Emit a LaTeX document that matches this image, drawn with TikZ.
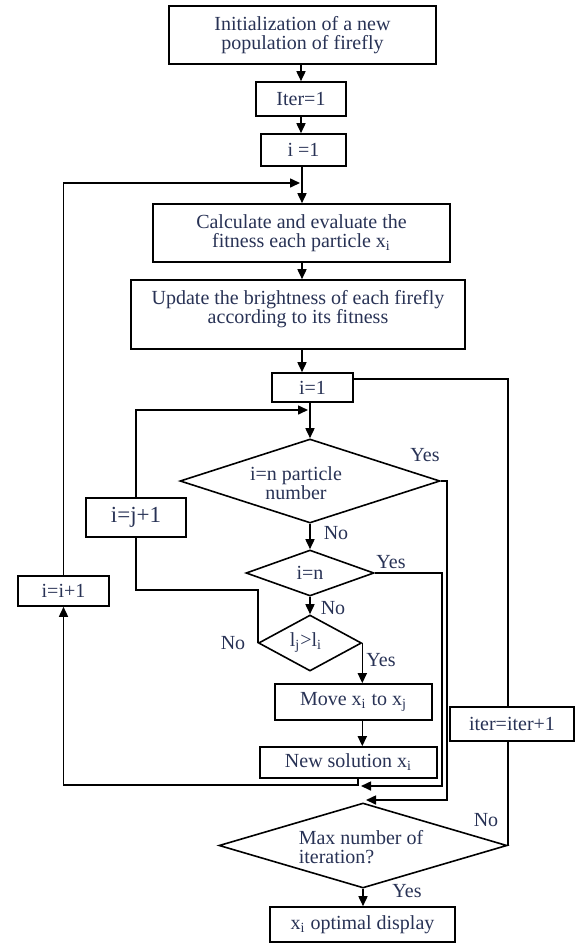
\documentclass[tikz,border=0pt]{standalone}
\usepackage{fontspec}
\setmainfont{Liberation Serif}
\usetikzlibrary{arrows.meta,shapes.geometric}
\definecolor{txtc}{RGB}{40,50,85}
\begin{document}
\begin{tikzpicture}[x=0.5pt,y=-0.5pt,
 box/.style={draw=black,line width=0.8pt,rectangle,inner sep=0pt,align=center,text=txtc,font=\fontsize{10}{9.5}\selectfont},
 dia/.style={draw=black,line width=0.8pt,diamond,inner sep=0pt},
 txt/.style={text=txtc,font=\fontsize{10}{9.5}\selectfont,align=center,inner sep=0pt},
 lbl/.style={text=txtc,font=\fontsize{10}{10}\selectfont,inner sep=0pt},
 line/.style={draw=black,line width=0.8pt},
 arr/.style={line,-{Triangle[length=5pt,width=4.5pt]}}]
\useasboundingbox (0,0) rectangle (580,943);

\node[box,minimum width=133.5pt,minimum height=29pt] (b1) at (302.5,35) {Initialization of a new\\population of firefly};
\node[box,minimum width=45pt,minimum height=17pt] (b2) at (301,99) {Iter=1};
\node[box,minimum width=42.5pt,minimum height=16pt] (b3) at (303.5,150) {i =1};
\node[box,minimum width=148.5pt,minimum height=29pt] (b4) at (301.5,233) {Calculate and evaluate the\\fitness each particle x\textsubscript{i}};
\node[box,minimum width=167pt,minimum height=34.5pt] (b5) at (298,314.5) {};
\node[txt] (b5t) at (298,309) {Update the brightness of each firefly\\according to its fitness};
\node[box,minimum width=40.5pt,minimum height=14.5pt] (b6) at (312.5,387.5) {i=1};
\node[dia,minimum width=130pt,minimum height=42pt] (d1) at (310,481) {};
\node[txt] (d1t) at (296,483) {i=n particle\\number};
\node[dia,minimum width=64pt,minimum height=23pt] (d2) at (310,573) {};
\node[txt] (d2t) at (310,573) {i=n};
\node[dia,minimum width=51.5pt,minimum height=28pt] (d3) at (310,643) {};
\node[txt] (d3t) at (306,643) {l\textsubscript{j}>l\textsubscript{i}};
\node[box,minimum width=78.5pt,minimum height=18pt] (mv) at (353.5,702) {Move x\textsubscript{i} to x\textsubscript{j}};
\node[box,minimum width=88.5pt,minimum height=15.5pt] (ns) at (348.5,762.5) {New solution x\textsubscript{i}};
\node[box,minimum width=50pt,minimum height=19.5pt,font=\fontsize{11.5}{12}\selectfont] (ij) at (136,517.5) {i=j+1};
\node[box,minimum width=45.5pt,minimum height=15pt] (ii) at (63.5,591) {i=i+1};
\node[box,minimum width=62pt,minimum height=17pt] (it) at (512,724) {iter=iter+1};
\node[dia,minimum width=144pt,minimum height=42.5pt] (d4) at (363,845.5) {};
\node[txt,align=left] (d4t) at (361,847) {Max number of\\iteration?};
\node[box,minimum width=92.5pt,minimum height=17.5pt] (en) at (362.5,924.5) {x\textsubscript{i} optimal display};

\node[lbl] (y1) at (425,455) {Yes};
\node[lbl] (n1) at (336,533) {No};
\node[lbl] (y2) at (391,562) {Yes};
\node[lbl] (n2) at (333,608) {No};
\node[lbl] (n3) at (233,643) {No};
\node[lbl] (y3) at (381,660) {Yes};
\node[lbl] (n4) at (486,820) {No};
\node[lbl] (y4) at (407,891) {Yes};

\coordinate (j1) at (302,183);
\coordinate (j2) at (310,410);
\draw[arr] (b2.north |- b1.south) -- (b2.north);
\draw[arr] (b2.south) -- (b2.south |- b3.north);
\draw[line] (b3.south -| j1) -- (j1);
\draw[arr] (j1) -- (j1 |- b4.north);
\draw[arr] (ii.north) |- ([xshift=-1pt]j1);
\draw[arr] (b4.south -| j1) -- (j1 |- b5.north);
\draw[arr] (b5.south -| j1) -- (j1 |- b6.north);
\draw[line] (b6.south -| j2) -- (j2);
\draw[arr] (j2) -- (d1.north);
\draw[arr] (ij.north) |- ([xshift=-1pt]j2);
\draw[arr] (d1.south) -- (d2.north);
\draw[arr] (d2.south) -- (d3.north);
\draw[arr] (d3.east) -- (d3.east |- mv.north);
\coordinate (k1) at (136,590);
\draw[line] (d3.west) |- (k1) -- (ij.south);
\draw[arr] (mv.south -| d3.east) -- (d3.east |- ns.north);
\coordinate (j3) at (358,785);
\draw[arr] (ns.south -| j3) -- (j3) -| (ii.south);
\coordinate (r2) at (442,786);
\coordinate (t2) at (361,786);
\draw[arr] (d2.east) -| (r2) -- (t2);
\coordinate (r1) at (447,800);
\coordinate (t1) at (366,800);
\draw[arr] (d1.east) -| (r1) -- (t1);
\coordinate (r4) at (508,845.5);
\draw[line] (d4.east) -- (r4) -- (r4 |- it.south);
\coordinate (r5) at (508,379);
\draw[line] (r4 |- it.north) -- (r5) -- (r5 -| b6.east);
\draw[arr] (d4.south) -- (d4.south |- en.north);
\end{tikzpicture}
\end{document}
